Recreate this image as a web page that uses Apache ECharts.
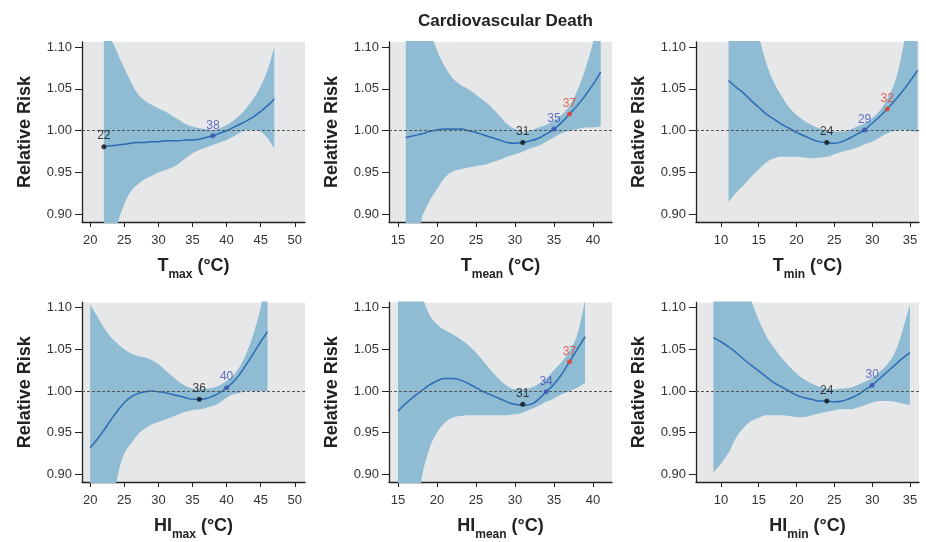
<!DOCTYPE html>
<html lang="en">
<head>
    <meta charset="UTF-8">
    <title>Cardiovascular Death</title>
    <style>
        html, body { margin: 0; padding: 0; background: #fff; }
        #main { width: 926px; height: 542px; }
    </style>
    <script src="https://cdn.jsdelivr.net/npm/echarts@6/dist/echarts.min.js"></script>
</head>
<body>
    <div id="main"></div>

    <script>
        // 数据
        // Tmax
        var TMAX_RR = [0.981, 0.982, 0.983, 0.984, 0.985, 0.986, 0.986, 0.987, 0.987, 0.988, 0.988, 0.988, 0.989, 0.989, 0.990, 0.992, 0.994, 0.997, 1.000, 1.004, 1.008, 1.012, 1.017, 1.023, 1.030, 1.038];
        var TMAX_LO = [0.75, 0.84, 0.888, 0.912, 0.928, 0.936, 0.942, 0.946, 0.950, 0.953, 0.956, 0.961, 0.967, 0.973, 0.977, 0.980, 0.983, 0.986, 0.989, 0.993, 0.998, 1.001, 1.001, 0.999, 0.991, 0.979];
        var TMAX_HI = [1.25, 1.115, 1.093, 1.075, 1.058, 1.044, 1.036, 1.031, 1.027, 1.023, 1.018, 1.013, 1.008, 1.005, 1.003, 1.002, 1.001, 1.003, 1.007, 1.012, 1.019, 1.028, 1.039, 1.053, 1.072, 1.100];
        var TMAX_PT_X = [22, 38];
        var TMAX_PT_Y = [0.981, 0.994];

        // Tmean
        var TMEAN_RR = [0.992, 0.994, 0.996, 0.999, 1.001, 1.002, 1.002, 1.002, 1.000, 0.998, 0.995, 0.992, 0.989, 0.986, 0.985, 0.986, 0.988, 0.991, 0.996, 1.002, 1.010, 1.020, 1.030, 1.042, 1.055, 1.070];
        var TMEAN_LO = [0.70, 0.82, 0.893, 0.915, 0.930, 0.944, 0.951, 0.954, 0.956, 0.958, 0.959, 0.962, 0.965, 0.969, 0.972, 0.975, 0.979, 0.982, 0.987, 0.992, 0.997, 1.000, 1.002, 1.004, 1.004, 1.005];
        var TMEAN_HI = [1.35, 1.25, 1.17, 1.125, 1.096, 1.077, 1.063, 1.055, 1.050, 1.043, 1.036, 1.028, 1.018, 1.008, 1.002, 0.999, 1.000, 1.004, 1.007, 1.012, 1.019, 1.030, 1.048, 1.073, 1.105, 1.15];
        var TMEAN_PT_X = [31, 35, 37];
        var TMEAN_PT_Y = [0.986, 1.002, 1.020];

        // Tmin
        var TMIN_RR = [1.060, 1.052, 1.045, 1.036, 1.028, 1.020, 1.014, 1.008, 1.003, 0.998, 0.994, 0.990, 0.987, 0.986, 0.985, 0.987, 0.991, 0.996, 1.001, 1.009, 1.017, 1.026, 1.036, 1.047, 1.059, 1.072];
        var TMIN_LO = [0.915, 0.926, 0.935, 0.945, 0.954, 0.962, 0.967, 0.969, 0.969, 0.969, 0.968, 0.967, 0.968, 0.969, 0.972, 0.975, 0.977, 0.980, 0.984, 0.987, 0.992, 0.997, 1.000, 1.001, 1.000, 0.998];
        var TMIN_HI = [1.45, 1.33, 1.23, 1.16, 1.115, 1.081, 1.058, 1.042, 1.028, 1.019, 1.012, 1.007, 1.003, 1.000, 0.999, 0.999, 1.001, 1.005, 1.009, 1.015, 1.024, 1.038, 1.058, 1.095, 1.15, 1.22];
        var TMIN_PT_X = [24, 29, 32];
        var TMIN_PT_Y = [0.986, 1.001, 1.026];

        // HImax
        var HIMAX_RR = [0.932, 0.942, 0.953, 0.965, 0.976, 0.986, 0.993, 0.997, 0.999, 1.000, 0.999, 0.998, 0.996, 0.994, 0.992, 0.990, 0.990, 0.991, 0.994, 0.998, 1.004, 1.011, 1.021, 1.033, 1.046, 1.059, 1.071];
        var HIMAX_LO = [0.60, 0.70, 0.78, 0.85, 0.897, 0.925, 0.937, 0.948, 0.955, 0.960, 0.963, 0.966, 0.969, 0.972, 0.975, 0.977, 0.978, 0.980, 0.982, 0.986, 0.992, 0.996, 0.998, 1.000, 1.000, 1.000, 1.000];
        var HIMAX_HI = [1.104, 1.090, 1.076, 1.065, 1.057, 1.050, 1.045, 1.042, 1.040, 1.037, 1.032, 1.025, 1.018, 1.011, 1.006, 1.003, 1.002, 1.003, 1.004, 1.007, 1.012, 1.019, 1.030, 1.047, 1.070, 1.100, 1.14];
        var HIMAX_PT_X = [36, 40];
        var HIMAX_PT_Y = [0.990, 1.004];

        // HImean
        var HIMEAN_RR = [0.976, 0.985, 0.993, 1.000, 1.007, 1.012, 1.015, 1.015, 1.013, 1.009, 1.004, 0.999, 0.995, 0.991, 0.987, 0.984, 0.983, 0.984, 0.990, 0.999, 1.008, 1.020, 1.035, 1.050, 1.065];
        var HIMEAN_LO = [0.62, 0.72, 0.82, 0.893, 0.930, 0.950, 0.962, 0.968, 0.970, 0.971, 0.971, 0.971, 0.971, 0.971, 0.971, 0.972, 0.974, 0.978, 0.982, 0.987, 0.991, 0.996, 1.000, 1.004, 1.010];
        var HIMEAN_HI = [1.40, 1.28, 1.19, 1.12, 1.092, 1.080, 1.073, 1.068, 1.062, 1.055, 1.046, 1.035, 1.024, 1.014, 1.006, 1.002, 1.002, 1.004, 1.008, 1.015, 1.025, 1.035, 1.048, 1.068, 1.11];
        var HIMEAN_PT_X = [31, 34, 37];
        var HIMEAN_PT_Y = [0.984, 0.999, 1.035];

        // HImin
        var HIMIN_RR = [1.064, 1.059, 1.053, 1.046, 1.038, 1.031, 1.024, 1.017, 1.010, 1.005, 1.000, 0.995, 0.992, 0.990, 0.988, 0.988, 0.987, 0.988, 0.991, 0.995, 1.001, 1.007, 1.015, 1.023, 1.031, 1.039, 1.046];
        var HIMIN_LO = [0.903, 0.913, 0.926, 0.944, 0.956, 0.964, 0.968, 0.971, 0.971, 0.971, 0.970, 0.969, 0.969, 0.971, 0.973, 0.975, 0.977, 0.978, 0.978, 0.980, 0.983, 0.986, 0.988, 0.988, 0.987, 0.985, 0.983];
        var HIMIN_HI = [1.45, 1.32, 1.23, 1.17, 1.13, 1.108, 1.085, 1.066, 1.052, 1.040, 1.030, 1.021, 1.014, 1.009, 1.005, 1.003, 1.002, 1.003, 1.004, 1.007, 1.011, 1.016, 1.023, 1.032, 1.046, 1.072, 1.104];
        var HIMIN_PT_X = [24, 30];
        var HIMIN_PT_Y = [0.988, 1.007];

        // 刻度
        var Y_TICKS = [0.90, 0.95, 1.00, 1.05, 1.10];
        var X_TICKS_A = [20, 25, 30, 35, 40, 45, 50];
        var X_TICKS_B = [15, 20, 25, 30, 35, 40];
        var X_TICKS_C = [10, 15, 20, 25, 30, 35];

        var FONT = '"Liberation Sans", Arial, sans-serif';
        var PT_COLORS = { k: '#111111', b: '#3f51b5', r: '#e8402f' };

        function range(a, b) {
            var out = [];
            for (var v = a; v <= b; v++) out.push(v);
            return out;
        }

        var panels = [
            { main: 'T', sub: 'max', x: range(22, 47), rr: TMAX_RR, lo: TMAX_LO, hi: TMAX_HI, px: TMAX_PT_X, py: TMAX_PT_Y, pc: ['k', 'b'], ticks: X_TICKS_A, xr: [18.8, 51.5] },
            { main: 'T', sub: 'mean', x: range(16, 41), rr: TMEAN_RR, lo: TMEAN_LO, hi: TMEAN_HI, px: TMEAN_PT_X, py: TMEAN_PT_Y, pc: ['k', 'b', 'r'], ticks: X_TICKS_B, xr: [13.85, 42.45] },
            { main: 'T', sub: 'min', x: range(11, 36), rr: TMIN_RR, lo: TMIN_LO, hi: TMIN_HI, px: TMIN_PT_X, py: TMIN_PT_Y, pc: ['k', 'b', 'r'], ticks: X_TICKS_C, xr: [6.7, 36.2] },
            { main: 'HI', sub: 'max', x: range(20, 46), rr: HIMAX_RR, lo: HIMAX_LO, hi: HIMAX_HI, px: HIMAX_PT_X, py: HIMAX_PT_Y, pc: ['k', 'b'], ticks: X_TICKS_A, xr: [18.8, 51.5] },
            { main: 'HI', sub: 'mean', x: range(15, 39), rr: HIMEAN_RR, lo: HIMEAN_LO, hi: HIMEAN_HI, px: HIMEAN_PT_X, py: HIMEAN_PT_Y, pc: ['k', 'b', 'r'], ticks: X_TICKS_B, xr: [13.85, 42.45] },
            { main: 'HI', sub: 'min', x: range(9, 35), rr: HIMIN_RR, lo: HIMIN_LO, hi: HIMIN_HI, px: HIMIN_PT_X, py: HIMIN_PT_Y, pc: ['k', 'b'], ticks: X_TICKS_C, xr: [6.7, 36.2] }
        ];

        var COL_LEFT = [82, 389, 696];
        var ROW_TOP = [42, 302.5];

        var grids = [], xAxes = [], yAxes = [], series = [];

        panels.forEach(function (p, i) {
            grids.push({
                left: COL_LEFT[i % 3], top: ROW_TOP[Math.floor(i / 3)], width: 223, height: 180,
                show: true, backgroundColor: '#e6e7e9', borderWidth: 0
            });

            xAxes.push({
                gridIndex: i, type: 'value', min: p.xr[0], max: p.xr[1],
                axisLine: { show: true, onZero: false, lineStyle: { color: '#222', width: 1.3 } },
                axisTick: { show: true, length: 5, customValues: p.ticks, lineStyle: { color: '#222' } },
                axisLabel: { customValues: p.ticks, margin: 12, fontSize: 13, color: '#333', fontFamily: FONT },
                splitLine: { show: false },
                name: '{b|' + p.main + '}{s|' + p.sub + '}{b| (°C)}',
                nameLocation: 'middle', nameGap: 35,
                nameTextStyle: {
                    rich: {
                        b: { fontSize: 18, fontWeight: 'bold', fontFamily: FONT, color: '#222', lineHeight: 20, verticalAlign: 'top' },
                        s: { fontSize: 12, fontWeight: 'bold', fontFamily: FONT, color: '#222', lineHeight: 12, verticalAlign: 'top', padding: [12, 0, 0, 0] }
                    }
                }
            });

            yAxes.push({
                gridIndex: i, type: 'value', min: 0.891, max: 1.106,
                axisLine: { show: true, onZero: false, lineStyle: { color: '#222', width: 1.3 } },
                axisTick: { show: true, length: 7, customValues: Y_TICKS, lineStyle: { color: '#222' } },
                axisLabel: {
                    customValues: Y_TICKS, margin: 10, fontSize: 13, color: '#333', fontFamily: FONT,
                    formatter: function (v) { return v.toFixed(2); }
                },
                splitLine: { show: false },
                name: 'Relative Risk', nameLocation: 'middle', nameGap: 48,
                nameTextStyle: { fontSize: 18, fontWeight: 'bold', fontFamily: FONT, color: '#222' }
            });

            // 置信区间：下界 + (上界-下界) 堆叠（数据维度 0 为 y，使堆叠作用于 y）
            series.push({
                type: 'line', xAxisIndex: i, yAxisIndex: i, stack: 'band' + i,
                encode: { x: 1, y: 0 },
                data: p.x.map(function (x, k) { return [p.lo[k], x]; }),
                showSymbol: false, smooth: 0.4, silent: true,
                lineStyle: { opacity: 0 }
            });
            series.push({
                type: 'line', xAxisIndex: i, yAxisIndex: i, stack: 'band' + i,
                encode: { x: 1, y: 0 },
                data: p.x.map(function (x, k) { return [+(p.hi[k] - p.lo[k]).toFixed(4), x]; }),
                showSymbol: false, smooth: 0.4, silent: true,
                lineStyle: { opacity: 0 },
                areaStyle: { color: '#8fbbd3', opacity: 1 }
            });

            // 中心曲线 + 参考虚线
            series.push({
                type: 'line', xAxisIndex: i, yAxisIndex: i,
                data: p.x.map(function (x, k) { return [x, p.rr[k]]; }),
                showSymbol: false, smooth: 0.5, silent: true,
                lineStyle: { color: '#2b6cb3', width: 1.5 },
                markLine: {
                    silent: true, symbol: ['none', 'none'], label: { show: false },
                    lineStyle: { color: '#555', width: 1, type: [3, 2] },
                    data: [{ yAxis: 1 }]
                }
            });

            // 标注点
            series.push({
                type: 'scatter', xAxisIndex: i, yAxisIndex: i, symbolSize: 5, silent: true, z: 5,
                data: p.px.map(function (x, k) {
                    var c = PT_COLORS[p.pc[k]];
                    return {
                        value: [x, p.py[k]],
                        itemStyle: { color: c },
                        label: { color: c }
                    };
                }),
                label: {
                    show: true, position: 'top', distance: 2,
                    fontSize: 12, fontFamily: FONT,
                    formatter: function (d) { return d.value[0]; }
                }
            });
        });

        var myChart = echarts.init(document.getElementById('main'));
        myChart.setOption({
            animation: false,
            backgroundColor: '#fff',
            title: {
                text: 'Cardiovascular Death', left: 413, top: 8,
                textStyle: { fontSize: 17, fontWeight: 'bold', fontFamily: FONT, color: '#222' }
            },
            grid: grids,
            xAxis: xAxes,
            yAxis: yAxes,
            series: series
        });
    </script>
</body>
</html>
